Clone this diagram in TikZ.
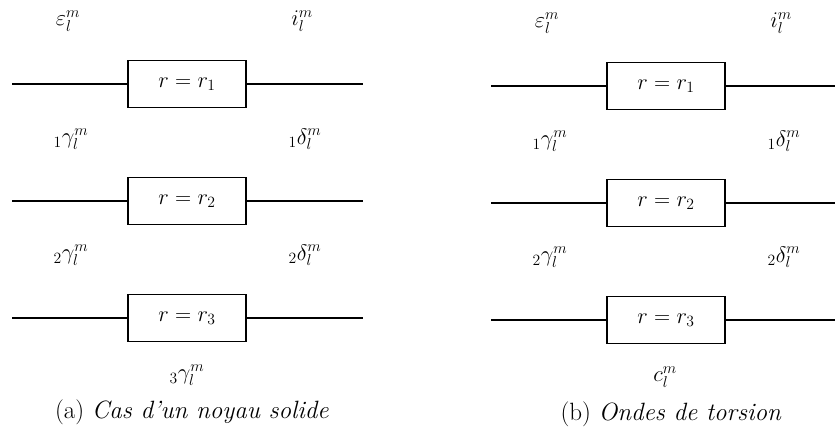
\RequirePackage{fix-cm}
\documentclass[tikz,border=0pt]{standalone}
\usepackage{fontspec}
\begin{document}
\begin{tikzpicture}[x=1pt,y=-1pt,
  lbl/.style={inner sep=0pt, font=\fontsize{22.4}{26}\selectfont},
  rbox/.style={draw, line width=1.8pt, minimum width=118pt, minimum height=47pt, inner sep=0pt, font=\fontsize{22.4}{26}\selectfont},
  wire/.style={line width=1.8pt},
  captext/.style={inner sep=0pt, anchor=base, font=\fontsize{25}{30}\selectfont}]
\useasboundingbox (0,0) rectangle (835,427);
% ---------- left panel (a)
\node[rbox] (a1) at (187,84) {$r=r_1$};
\node[rbox] (a2) at (187,201) {$r=r_2$};
\node[rbox] (a3) at (187,318) {$r=r_3$};
\coordinate (a1l) at (12,84);  \coordinate (a1r) at (363,84);
\coordinate (a2l) at (12,201); \coordinate (a2r) at (363,201);
\coordinate (a3l) at (12,318); \coordinate (a3r) at (363,318);
\draw[wire] (a1l) -- (a1.west) (a1.east) -- (a1r);
\draw[wire] (a2l) -- (a2.west) (a2.east) -- (a2r);
\draw[wire] (a3l) -- (a3.west) (a3.east) -- (a3r);
\node[lbl] (ae) at (68,21) {$\varepsilon_l^m$};
\node[lbl] (ai) at (302,21) {$i_l^m$};
\node[lbl] (ag1) at (71,139) {${}_1\gamma_l^m$};
\node[lbl] (ad1) at (305,139) {${}_1\delta_l^m$};
\node[lbl] (ag2) at (71,255) {${}_2\gamma_l^m$};
\node[lbl] (ad2) at (305,255) {${}_2\delta_l^m$};
\node[lbl] (ag3) at (187,375) {${}_3\gamma_l^m$};
\node[captext] (capa) at (192,418) {(a) \textit{Cas d'un noyau solide}};
% ---------- right panel (b)
\node[rbox] (b1) at (666,86) {$r=r_1$};
\node[rbox] (b2) at (666,203) {$r=r_2$};
\node[rbox] (b3) at (666,320) {$r=r_3$};
\coordinate (b1l) at (491,86);  \coordinate (b1r) at (835,86);
\coordinate (b2l) at (491,203); \coordinate (b2r) at (835,203);
\coordinate (b3l) at (491,320); \coordinate (b3r) at (835,320);
\draw[wire] (b1l) -- (b1.west) (b1.east) -- (b1r);
\draw[wire] (b2l) -- (b2.west) (b2.east) -- (b2r);
\draw[wire] (b3l) -- (b3.west) (b3.east) -- (b3r);
\node[lbl] (be) at (547,23) {$\varepsilon_l^m$};
\node[lbl] (bi) at (781,23) {$i_l^m$};
\node[lbl] (bg1) at (550,141) {${}_1\gamma_l^m$};
\node[lbl] (bd1) at (784,141) {${}_1\delta_l^m$};
\node[lbl] (bg2) at (550,257) {${}_2\gamma_l^m$};
\node[lbl] (bd2) at (784,257) {${}_2\delta_l^m$};
\node[lbl] (bc) at (665,377) {$c_l^m$};
\node[captext] (capb) at (671,420) {(b) \textit{Ondes de torsion}};
\end{tikzpicture}
\end{document}
